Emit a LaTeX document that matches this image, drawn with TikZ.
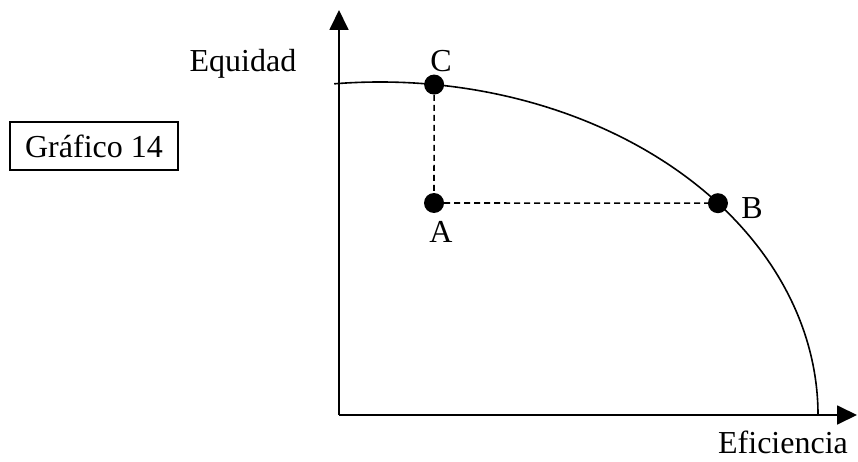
\documentclass[tikz,border=0pt]{standalone}
\usepackage{fontspec}
\setmainfont{Liberation Serif}
\usetikzlibrary{arrows.meta,positioning,calc}

\begin{document}
\begin{tikzpicture}[x=1pt, y=1pt, every node/.style={font=\fontsize{32}{38}\selectfont},
    axis/.style={line width=1.8pt, -{Triangle[length=20pt,width=19pt]}},
    dot/.style={circle, fill, inner sep=0pt, minimum size=20pt},
    guide/.style={line width=1.6pt, dash pattern=on 6pt off 4pt},
    lbl/.style={anchor=base, inner sep=0pt}]
  \useasboundingbox (0,0) rectangle (858,461);
  % axes
  \coordinate (O) at (339,46);
  \coordinate (ytip) at (339,451);
  \coordinate (xtip) at (857,46);
  \draw[axis] (O) -- (ytip);
  \draw[axis] (O) -- (xtip);
  % frontier
  \coordinate (ctr) at (380,46);
  \draw[line width=1.6pt] ($(ctr)+(96:438 and 333)$) arc[start angle=96, end angle=0, x radius=438, y radius=333];
  % points
  \node[dot] (ptC) at ($(ctr)+(82.9:438 and 333)$) {};
  \node[dot] (ptA) at (434,258) {};
  \node[dot] (ptB) at ($(ctr)+(39.5:438 and 333)$) {};
  \draw[guide] (ptC) -- (ptA);
  \draw[guide] (ptA) -- (ptB);
  % labels
  \node[lbl] (labC) at (441,389) {C};
  \node[lbl] (labA) at (441,219) {A};
  \node[lbl] (labB) at (752,243) {B};
  \node[lbl] (equi) at (243,389) {Equidad};
  \node[lbl] (efic) at (783,8) {Eficiencia};
  \node[draw, line width=1.6pt, minimum width=168pt, minimum height=48pt] (graf) at (94,315) {Gráfico 14};
\end{tikzpicture}
\end{document}
